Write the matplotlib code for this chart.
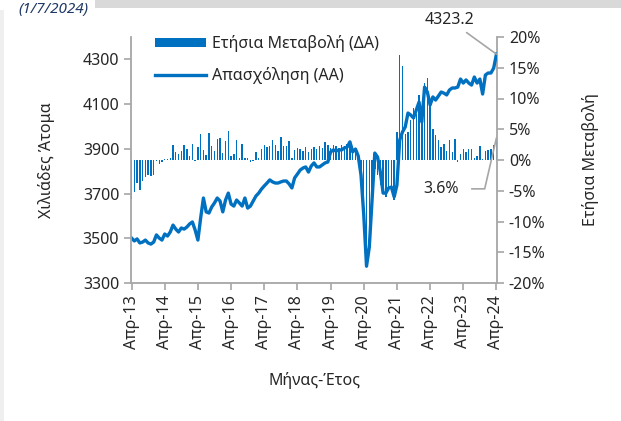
import matplotlib
matplotlib.use("Agg")
import matplotlib.pyplot as plt
from matplotlib.patches import Patch, Rectangle
from matplotlib.lines import Line2D
import matplotlib.ticker as mticker
import numpy as np

plt.rcParams['font.family'] = ['Noto Sans', 'DejaVu Sans']

W, H = 621, 421
BLUE = '#0070C0'
GREY = '#A6A6A6'
TXT = '#262626'

# monthly data, Apr 2013 .. Apr 2024
employment = [
    3501, 3488, 3497, 3479, 3483, 3492, 3479, 3474, 3483, 3515, 3501, 3492,
    3519, 3510, 3528, 3559, 3541, 3528, 3546, 3541, 3550, 3564, 3573, 3537,
    3492, 3591, 3680, 3618, 3613, 3640, 3658, 3680, 3667, 3618, 3671, 3702,
    3653, 3644, 3671, 3658, 3644, 3680, 3635, 3644, 3667, 3689, 3702, 3720,
    3734, 3747, 3761, 3752, 3747, 3747, 3752, 3756, 3756, 3743, 3725, 3770,
    3787, 3805, 3814, 3819, 3796, 3823, 3837, 3819, 3819, 3828, 3837, 3841,
    3886, 3895, 3890, 3895, 3895, 3904, 3908, 3931, 3886, 3899, 3868, 3783,
    3604, 3375, 3460, 3671, 3881, 3863, 3796, 3702, 3702, 3725, 3729, 3685,
    3738, 3939, 3975, 3998, 4060, 4051, 4038, 4074, 4109, 4020, 4176, 4154,
    4096, 4132, 4118, 4136, 4154, 4149, 4141, 4163, 4172, 4172, 4176, 4212,
    4194, 4208, 4194, 4185, 4221, 4194, 4212, 4145, 4230, 4239, 4239, 4261, 4323.2,
]

yoy_change = [
    -6.4, -5.2, -3.7, -4.9, -3.4, -2.7, -2.4, -2.6, -2.5, -0.2, -0.7, -0.3,
    0.1, 0.2, 0.3, 2.5, 1.3, 1.0, 1.5, 2.5, 1.8, 0.7, 2.6, -0.1,
    2.1, 4.3, 1.6, 0.8, 4.4, 2.3, 1.5, 3.4, 3.6, 1.1, 3.1, 4.7,
    0.7, 1.0, 3.3, 0.3, 2.6, 0.4, 0.3, -0.4, -0.1, 1.3, 0.4, 1.8,
    2.5, 2.1, 2.2, 3.2, 2.5, 1.5, 3.7, 2.2, 2.2, 3.1, 0.3, 1.7,
    1.9, 1.8, 1.5, 2.1, 1.3, 1.8, 2.1, 1.8, 2.2, 2.0, 2.9, 2.5,
    2.0, 2.5, 2.3, 2.0, 2.5, 2.2, 2.6, 2.5, 2.2, 1.5, -0.5, -3.5,
    -8.5, -13.5, -12.0, -6.0, -1.5, -2.5, -4.0, -5.5, -6.0, -5.0, -4.5, -6.5,
    4.5, 17.0, 15.3, 4.2, 4.6, 6.5, 8.5, 7.4, 10.5, 8.0, 12.5, 13.3,
    9.0, 5.1, 4.0, 3.2, 2.1, 2.6, 1.5, 3.2, 1.3, 3.4, -0.4, 1.0,
    1.8, 1.3, 1.8, 1.8, 0.4, 0.7, 2.3, 0.2, 1.5, 1.6, 1.8, 2.5, 3.6,
]

tick_labels = ['Απρ-13', 'Απρ-14', 'Απρ-15', 'Απρ-16', 'Απρ-17', 'Απρ-18',
               'Απρ-19', 'Απρ-20', 'Απρ-21', 'Απρ-22', 'Απρ-23', 'Απρ-24']

months = np.arange(len(employment))

fig = plt.figure(figsize=(W / 100, H / 100), dpi=100)
fig.patch.set_facecolor('white')

# bits of the surrounding page
fig.patches.append(Rectangle((95 / W, 1 - 8 / H), 1, 8 / H, transform=fig.transFigure,
                             facecolor='#D9D9D9', edgecolor='none'))
fig.patches.append(Rectangle((0, 0), 4 / W, 1 - 10 / H, transform=fig.transFigure,
                             facecolor='#EFEFEF', edgecolor='none'))
fig.text(88 / W, 1 - 13 / H, '(1/7/2024)', ha='right', va='baseline', fontsize=11,
         style='italic', color='#1F3864')

ax = fig.add_axes([131 / W, 1 - 283 / H, 366 / W, 246 / H])
ax2 = ax.twinx()
ax.set_zorder(ax2.get_zorder() + 1)
ax.patch.set_visible(False)

ax2.bar(months, yoy_change, width=0.5, color=BLUE, linewidth=0)
ax.plot(months, employment, color=BLUE, linewidth=2.4, solid_joinstyle='round')

ax.set_xlim(-0.2, len(employment) - 0.8)
ax.set_ylim(3300, 4400)
ax.set_yticks(np.arange(3300, 4301, 200))
ax2.set_ylim(-20, 20)
ax2.set_yticks(np.arange(-20, 21, 5))
ax2.yaxis.set_major_formatter(mticker.FuncFormatter(lambda v, p: f'{v:.0f}%'))

ax.set_xticks(months[::12])
ax.set_xticklabels(tick_labels, rotation=90)

for a in (ax, ax2):
    a.spines['top'].set_visible(False)
    for s in ('left', 'right', 'bottom'):
        a.spines[s].set_color(GREY)
        a.spines[s].set_linewidth(1.3)
    a.tick_params(colors=GREY, labelcolor=TXT, labelsize=11.5, length=5, width=1.2)
ax.spines['right'].set_visible(False)
ax2.spines['left'].set_visible(False)
ax2.spines['bottom'].set_visible(False)

ax.set_ylabel('Χιλιάδες Άτομα', fontsize=11.5, color=TXT, labelpad=20)
ax2.set_ylabel('Ετήσια Μεταβολή', fontsize=11.5, color=TXT, labelpad=26)
ax.set_xlabel('Μήνας-Έτος', fontsize=11.5, color=TXT, labelpad=17)

handles = [Patch(facecolor=BLUE, edgecolor='none'),
           Line2D([], [], color=BLUE, linewidth=2.4)]
ax.legend(handles, ['Ετήσια Μεταβολή (ΔΑ)', 'Απασχόληση (ΑΑ)'],
          loc='upper left', bbox_to_anchor=(141 / W, 1 - 21 / H),
          bbox_transform=fig.transFigure, frameon=False, fontsize=11.5,
          handlelength=3.2, handleheight=0.5, handletextpad=0.35,
          labelspacing=0.9, labelcolor=TXT)

ax.annotate(f'{employment[-1]:.1f}', xy=(months[-1], employment[-1]),
            xytext=(-47, 34), textcoords='offset pixels', ha='center', va='center',
            fontsize=11.5, color=TXT, annotation_clip=False,
            arrowprops=dict(arrowstyle='-', color=GREY, lw=1.2, shrinkA=2, shrinkB=0))
ax2.annotate(f'{yoy_change[-1]:.1f}%', xy=(months[-1], yoy_change[-1]),
             xytext=(-55, -51), textcoords='offset pixels', ha='center', va='center',
             fontsize=11.5, color=TXT,
             arrowprops=dict(arrowstyle='-', color=GREY, lw=1.2, shrinkA=7, shrinkB=0,
                             connectionstyle='angle,angleA=0,angleB=77,rad=0'))

fig.savefig('out.png', dpi=100)
